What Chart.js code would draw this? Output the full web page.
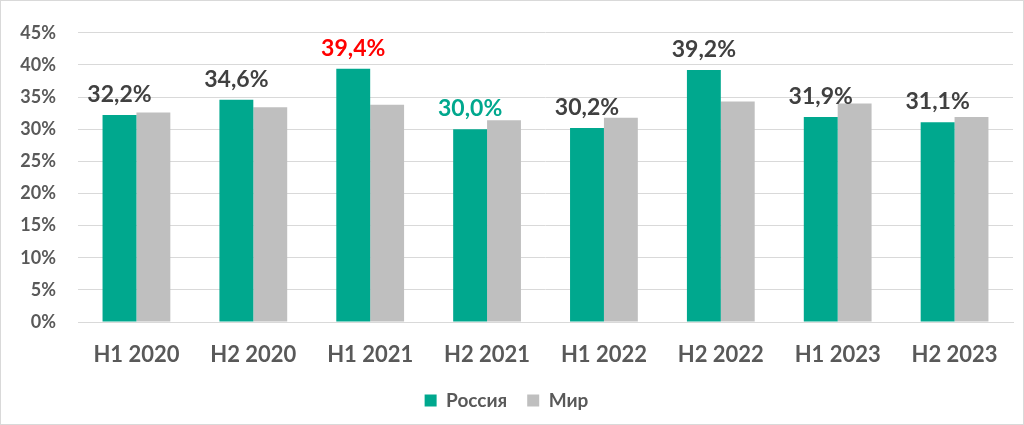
<!DOCTYPE html>
<html><head><meta charset="utf-8">
<script src="https://cdn.jsdelivr.net/npm/chart.js@4/dist/chart.umd.min.js"></script>
<style>html,body{margin:0;padding:0;background:#fff}#w{width:1024px;height:425px}</style>
</head><body><div id="w"><canvas id="c" width="1024" height="425"></canvas></div>
<script>
const categories = ["H1 2020","H2 2020","H1 2021","H2 2021","H1 2022","H2 2022","H1 2023","H2 2023"];
const russia = [32.2, 34.6, 39.4, 30.0, 30.2, 39.2, 31.9, 31.1];
const world = [32.6, 33.4, 33.8, 31.4, 31.8, 34.3, 34.0, 31.9];
const labelColors = ["#404040","#404040","#FF0000","#00A88E","#404040","#404040","#404040","#404040"];
const yTicks = [0,5,10,15,20,25,30,35,40,45];

const FONT = "Lato, 'Open Sans', sans-serif";
const fmt = v => v.toFixed(1).replace('.', ',') + '%';

const labelPlugin = {
  id: 'vlabels',
  afterDatasetsDraw(chart) {
    const ctx = chart.ctx;
    const meta = chart.getDatasetMeta(0);
    ctx.save();
    ctx.font = "bold 23px " + FONT;
    ctx.textAlign = 'center';
    ctx.textBaseline = 'alphabetic';
    meta.data.forEach((bar, i) => {
      ctx.fillStyle = labelColors[i];
      ctx.fillText(fmt(russia[i]), bar.x, bar.y - 13);
    });
    ctx.restore();
  }
};
const framePlugin = {
  id: 'frame',
  afterDraw(chart) {
    const ctx = chart.ctx;
    ctx.save();
    ctx.strokeStyle = '#d9d9d9';
    ctx.lineWidth = 1;
    ctx.strokeRect(0.5, 0.5, chart.width - 1, chart.height - 1);
    ctx.restore();
  }
};

new Chart(document.getElementById('c'), {
  type: 'bar',
  data: {
    labels: categories,
    datasets: [
      { label: 'Россия', data: russia, backgroundColor: '#00A88E', categoryPercentage: 0.58, barPercentage: 1.0 },
      { label: 'Мир', data: world, backgroundColor: '#BFBFBF', categoryPercentage: 0.58, barPercentage: 1.0 }
    ]
  },
  options: {
    responsive: false,
    animation: false,
    devicePixelRatio: 1,
    layout: { padding: { left: 0, right: 11, top: 24, bottom: 5 } },
    plugins: {
      legend: {
        position: 'bottom',
        labels: {
          boxWidth: 12, boxHeight: 12, padding: 20,
          color: '#595959',
          font: { family: FONT, size: 19, weight: 'bold' }
        }
      },
      tooltip: { enabled: false }
    },
    scales: {
      x: {
        grid: { display: false, drawTicks: false },
        border: { display: true, color: '#d9d9d9' },
        ticks: { color: '#595959', padding: 20, font: { family: FONT, size: 22, weight: 'bold' } },
        afterFit(s) { s.height = 49; }
      },
      y: {
        min: 0, max: 45,
        afterBuildTicks(s) { s.ticks = yTicks.map(v => ({ value: v })); },
        grid: { color: '#d9d9d9', drawTicks: false },
        border: { display: false },
        ticks: { color: '#595959', padding: 22, font: { family: FONT, size: 18, weight: 'bold' },
                 callback: v => v + '%' },
        afterFit(s) { s.width = 78; }
      }
    }
  },
  plugins: [labelPlugin, framePlugin]
});
</script>
</body></html>
